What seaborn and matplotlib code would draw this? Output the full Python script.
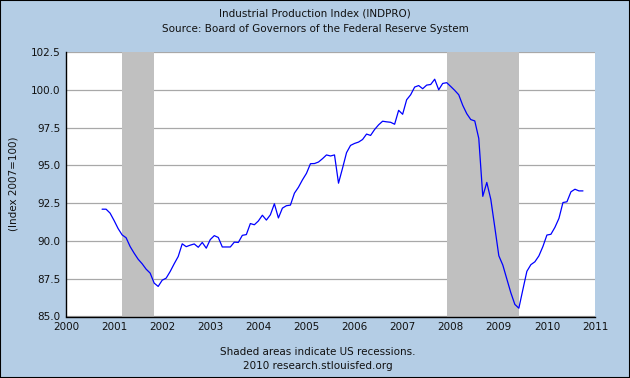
import pandas as pd
import matplotlib
matplotlib.use("Agg")
import matplotlib.pyplot as plt
import seaborn as sns

# Industrial Production Index, monthly, Oct 2000 .. Oct 2010
start_month = "2000-10"
indpro = [
    92.10, 92.10, 91.84,
    91.35, 90.82, 90.40, 90.21, 89.63, 89.19, 88.79, 88.49, 88.13, 87.87, 87.21, 86.99,
    87.40, 87.54, 87.98, 88.49, 88.97, 89.81, 89.62, 89.72, 89.80, 89.58, 89.90, 89.52,
    90.09, 90.35, 90.23, 89.60, 89.60, 89.60, 89.92, 89.90, 90.37, 90.42, 91.15, 91.07,
    91.32, 91.70, 91.38, 91.73, 92.46, 91.52, 92.17, 92.33, 92.37, 93.16, 93.55, 94.04,
    94.47, 95.11, 95.12, 95.22, 95.44, 95.69, 95.62, 95.69, 93.82, 94.81, 95.84, 96.32,
    96.45, 96.54, 96.71, 97.07, 96.98, 97.37, 97.68, 97.92, 97.88, 97.85, 97.72, 98.64,
    98.38, 99.34, 99.67, 100.18, 100.28, 100.07, 100.31, 100.35, 100.70, 100.00, 100.42, 100.47,
    100.22, 99.96, 99.67, 98.97, 98.42, 98.03, 97.94, 96.78, 92.95, 93.87, 92.75, 90.90,
    89.02, 88.40, 87.48, 86.57, 85.80, 85.55, 86.78, 87.99, 88.43, 88.62, 89.01, 89.63,
    90.39, 90.44, 90.90, 91.49, 92.54, 92.59, 93.25, 93.42, 93.31, 93.31,
]
recession_starts = ["2001-03", "2007-12"]
recession_ends = ["2001-11", "2009-06"]
year_ticks = list(range(2000, 2012))
value_ticks = [85.0, 87.5, 90.0, 92.5, 95.0, 97.5, 100.0, 102.5]

bg = "#b4cde5"


def decimal_year(stamp):
    stamp = pd.Timestamp(stamp)
    return stamp.year + (stamp.month - 1) / 12


dates = pd.date_range(start_month, periods=len(indpro), freq="MS")
df = pd.DataFrame({"year": [decimal_year(d) for d in dates], "value": indpro})

sns.set_style("white")
plt.rcParams["font.family"] = ["DejaVu Sans"]

fig = plt.figure(figsize=(6.3, 3.78), dpi=100, facecolor=bg)
ax = fig.add_axes([66 / 630, 1 - 316.5 / 378, (595 - 66) / 630, (316.5 - 52) / 378])
ax.set_facecolor("white")

# recession bands sit above the grid but under the line
for s, e in zip(recession_starts, recession_ends):
    ax.axvspan(decimal_year(s), decimal_year(e), color="#c0c0c0", lw=0, zorder=1)

sns.lineplot(data=df, x="year", y="value", ax=ax, color="#0000ff", linewidth=0.9, zorder=3)

ax.set_xlim(2000, 2011)
ax.set_ylim(85, 102.5)
ax.set_xticks(year_ticks)
ax.set_yticks(value_ticks)
ax.yaxis.set_major_formatter("{x:.1f}")
ax.set_axisbelow(True)
ax.grid(axis="y", color="#a8a8a8", lw=0.9)
ax.grid(axis="x", visible=False)
ax.set_xlabel("")
ax.set_ylabel("")

ax.tick_params(axis="both", direction="in", length=5, width=0.8, labelsize=7.5,
               colors="#111111", pad=4)
ax.tick_params(axis="x", color="#777777")
for side in ["top", "right"]:
    ax.spines[side].set_visible(False)
for side in ["left", "bottom"]:
    ax.spines[side].set_color("black")
    ax.spines[side].set_linewidth(1.0)

fig.text(0.5, 1 - 14 / 378, "Industrial Production Index (INDPRO)",
         ha="center", va="center", fontsize=7.5, color="#111111")
fig.text(0.5, 1 - 29.5 / 378, "Source: Board of Governors of the Federal Reserve System",
         ha="center", va="center", fontsize=7.5, color="#111111")
fig.text(14 / 630, 1 - 184 / 378, "(Index 2007=100)", rotation=90,
         ha="center", va="center", fontsize=7.5, color="#111111")
fig.text(0.505, 1 - 352 / 378, "Shaded areas indicate US recessions.",
         ha="center", va="center", fontsize=7.5, color="#111111")
fig.text(0.505, 1 - 366 / 378, "2010 research.stlouisfed.org",
         ha="center", va="center", fontsize=7.5, color="#111111")

fig.patches.append(plt.Rectangle((0, 0), 1, 1, transform=fig.transFigure,
                                 fill=False, edgecolor="black", lw=1.5))

fig.savefig("out.png", dpi=100, facecolor=bg)
